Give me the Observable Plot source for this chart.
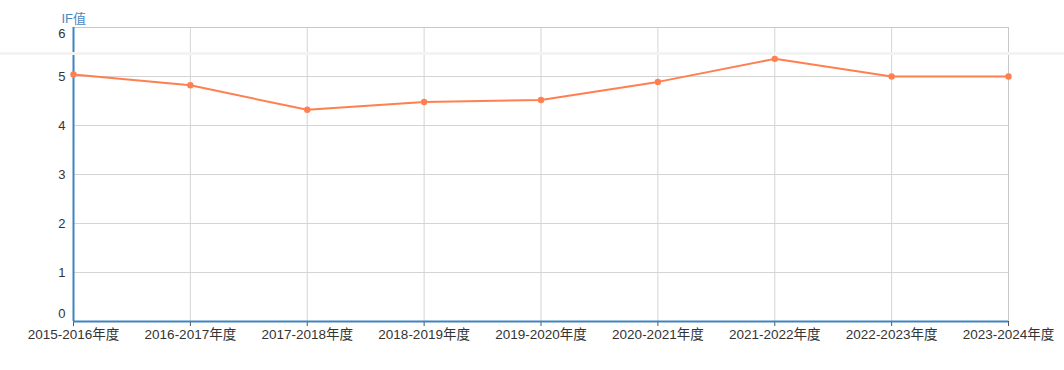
<!DOCTYPE html>
<html>
<head>
<meta charset="utf-8">
<script src="https://cdn.jsdelivr.net/npm/d3@7"></script>
<script src="https://cdn.jsdelivr.net/npm/@observablehq/plot@0.6"></script>
<style>
  html, body { margin: 0; padding: 0; background: #fff; }
  #chart { position: relative; width: 1064px; height: 370px; }
  #band { position: absolute; left: 0; top: 52px; width: 1064px; height: 3px; background: #f3f3f3; }
</style>
</head>
<body>
<div id="chart"><div id="band"></div></div>
<script>
const categories = ["2015-2016年度", "2016-2017年度", "2017-2018年度", "2018-2019年度", "2019-2020年度", "2020-2021年度", "2021-2022年度", "2022-2023年度", "2023-2024年度"];
const ifValues = [5.04, 4.82, 4.32, 4.48, 4.52, 4.89, 5.36, 5.00, 5.00];
const yTicks = [0, 1, 2, 3, 4, 5, 6];
const yTitle = "IF值";

const data = categories.map((c, i) => ({ year: c, value: ifValues[i] }));
const blue = "#3f84c2";
const orange = "#ff7f50";
const font = "'Liberation Sans', Arial, 'Noto Sans CJK SC', sans-serif";

const chart = Plot.plot({
  width: 1064,
  height: 370,
  marginLeft: 73,
  marginRight: 56,
  marginTop: 27,
  marginBottom: 49,
  style: { fontFamily: font, fontSize: "13px", color: "#333", background: "transparent", overflow: "visible" },
  x: { type: "point", domain: categories, padding: 0, round: false },
  y: { domain: [0, 6] },
  marks: [
    Plot.gridX(categories, { stroke: "#d4d4d4", strokeOpacity: 1 }),
    Plot.gridY(yTicks, { stroke: "#d4d4d4", strokeOpacity: 1 }),
    Plot.frame({ anchor: "top", stroke: "#c8c8c8" }),
    Plot.frame({ anchor: "right", stroke: "#c8c8c8" }),
    Plot.axisX({ tickSize: 5, tickPadding: 3, stroke: "#555", fill: "#333", fontSize: 13.5, label: null }),
    Plot.axisY(yTicks.slice(1, -1), { tickSize: 0, tickPadding: 8, fill: "#333", fontSize: 13, label: null }),
    Plot.text(yTicks.slice(0, 1), { y: d => d, text: d => String(d), frameAnchor: "left", dx: -8, dy: -8, textAnchor: "end", fill: "#333", fontSize: 13 }),
    Plot.text(yTicks.slice(-1), { y: d => d, text: d => String(d), frameAnchor: "left", dx: -8, dy: 6, textAnchor: "end", fill: "#333", fontSize: 13 }),
    Plot.ruleX(categories.slice(0, 1), { stroke: blue, strokeWidth: 2 }),
    Plot.ruleY([0], { stroke: blue, strokeWidth: 2 }),
    Plot.line(data, { x: "year", y: "value", stroke: orange, strokeWidth: 2 }),
    Plot.dot(data, { x: "year", y: "value", fill: orange, r: 3.2 }),
    Plot.text([yTitle], { frameAnchor: "top-left", dx: -12, dy: -14, textAnchor: "start", fill: "#4a86c0", fontSize: 13 })
  ]
});
document.getElementById("chart").prepend(chart);
</script>
</body>
</html>
